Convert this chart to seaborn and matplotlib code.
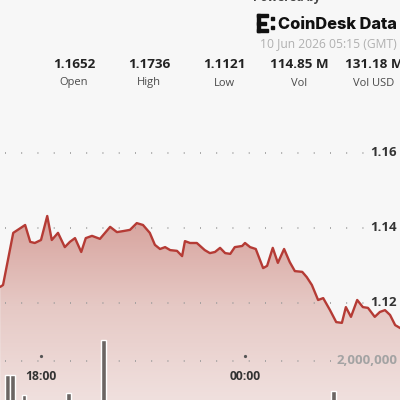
import matplotlib
matplotlib.use("Agg")
import matplotlib.pyplot as plt
import matplotlib.transforms as mtransforms
from matplotlib.colors import LinearSegmentedColormap
from matplotlib.patches import Rectangle
import numpy as np
import seaborn as sns

# precio (hora GMT, valor)
horas = ["16:48", "16:53", "17:11", "17:21", "17:32", "17:41", "17:49", "18:00", "18:11", "18:19",
         "18:30", "18:42", "18:51", "19:00", "19:11", "19:19", "19:30", "19:44", "20:02", "20:14",
         "20:26", "20:37", "20:49", "21:00", "21:12", "21:21", "21:30", "21:39", "21:48", "22:00",
         "22:09", "22:14", "22:23", "22:35", "22:49", "22:58", "23:07", "23:16", "23:25", "23:34",
         "23:42", "23:55", "00:00", "00:09", "00:19", "00:32", "00:39", "00:49", "00:58", "01:09",
         "01:19", "01:28", "01:41", "01:49", "01:58", "02:09", "02:18", "02:30", "02:41", "02:51",
         "02:58", "03:07", "03:18", "03:28", "03:37", "03:49", "03:58", "04:07", "04:16", "04:25",
         "04:34"]
precios = [1.1243, 1.1248, 1.1387, 1.1397, 1.1408, 1.1363, 1.1360, 1.1368, 1.1432, 1.1368,
           1.1387, 1.1349, 1.1363, 1.1373, 1.1336, 1.1373, 1.1379, 1.1371, 1.1403, 1.1389,
           1.1392, 1.1395, 1.1413, 1.1408, 1.1387, 1.1355, 1.1344, 1.1349, 1.1341, 1.1339,
           1.1325, 1.1365, 1.1360, 1.1360, 1.1341, 1.1333, 1.1336, 1.1347, 1.1333, 1.1331,
           1.1349, 1.1352, 1.1360, 1.1349, 1.1344, 1.1293, 1.1299, 1.1347, 1.1307, 1.1344,
           1.1309, 1.1285, 1.1283, 1.1269, 1.1248, 1.1208, 1.1213, 1.1181, 1.1149, 1.1147,
           1.1189, 1.1163, 1.1208, 1.1189, 1.1187, 1.1163, 1.1176, 1.1181, 1.1168, 1.1141,
           1.1133]

# volumen visible
horas_vol = ["17:01", "17:10", "17:30", "18:49", "19:50", "02:36"]
volumenes = [1.56e6, 1.56e6, 0.94e6, 1.00e6, 2.66e6, 1.06e6]

stats_valores = ["1.1652", "1.1736", "1.1121", "114.85 M", "131.18 M"]
stats_nombres = ["Open", "High", "Low", "Vol", "Vol USD"]
precio_ticks = [1.16, 1.14, 1.12]
vol_ticks = [2_000_000]
tiempo_ticks = ["18:00", "00:00"]


def a_horas(t):
    h, m = map(int, t.split(":"))
    h = h + m / 60
    return h + 24 if h < 12 else h


x = np.array([a_horas(t) for t in horas])
xv = np.array([a_horas(t) for t in horas_vol])

sns.set_theme(style="white")
plt.rcParams['font.family'] = ['Open Sans', 'DejaVu Sans']

fig = plt.figure(figsize=(4, 4), dpi=100)
fig.patch.set_facecolor("#f7f7f7")
ax = fig.add_axes([0, 0, 1, 0.75])
ax.set_facecolor("#f7f7f7")

xlim = (16.794, 28.559)
ylim = (1.09413, 1.17413)

# relleno con degradado
poly = ax.fill_between(x, precios, ylim[0], color="none", lw=0)
grad = np.linspace(0, 1, 256).reshape(-1, 1)
cmap = LinearSegmentedColormap.from_list("rojo", ["#d6a09a", "#e6c9c5", "#f0e0de"])
im = ax.imshow(grad, extent=[xlim[0], xlim[1], ylim[0], 1.144], aspect="auto",
               cmap=cmap, origin="upper", zorder=1)
im.set_clip_path(poly.get_paths()[0], transform=ax.transData)

sns.lineplot(x=x, y=precios, ax=ax, color="#b53b35", lw=1.7, zorder=3)
ax.set_xlim(*xlim)
ax.set_ylim(*ylim)

trans_p = mtransforms.blended_transform_factory(ax.transAxes, ax.transData)
for p in precio_ticks:
    ax.axhline(p, xmin=0.012, xmax=0.915, color="#9a9a9a", lw=1.3,
               ls=(0, (0.5, 8.5)), zorder=2)
    ax.text(0.993, p, f"{p:.2f}", transform=trans_p, ha="right", va="center",
            fontsize=9.5, fontweight="bold", color="#333333", zorder=4)

ax.axis("off")

# volumen
ax2 = ax.twinx()
ax2.bar(xv, volumenes, width=0.14, color="#6b6563", zorder=3)
ax2.set_ylim(0.78e6, 10.16e6)
ax2.set_xlim(*xlim)
trans_v = mtransforms.blended_transform_factory(ax2.transAxes, ax2.transData)
for v in vol_ticks:
    ax2.axhline(v, xmin=0.012, xmax=0.85, color="#9a9a9a", lw=1.3,
                ls=(0, (0.5, 8.5)), zorder=2)
    ax2.text(0.993, v, f"{v:,}", transform=trans_v, ha="right", va="center",
             fontsize=9.5, fontweight="bold", color="#a3a3a3")
ax2.axis("off")

trans_t = mtransforms.blended_transform_factory(ax.transData, ax.transAxes)
for t in tiempo_ticks:
    h = a_horas(t)
    ax.text(h, 0.08, t, transform=trans_t, ha="center", va="center",
            fontsize=8.7, fontweight="bold", color="#333333")
    ax.plot([h], [0.147], transform=trans_t, marker="o", ms=1.3, color="#555555")

# cabecera
for i, (val, nom) in enumerate(zip(stats_valores, stats_nombres)):
    cx = (74 + 75 * i) / 400
    fig.text(cx, 1 - 65 / 400, val, ha="center", va="center", fontsize=9.7,
             fontweight="bold", color="#222222")
    fig.text(cx, 1 - 83 / 400, nom, ha="center", va="center", fontsize=8,
             color="#4a4a4a")

fig.text(287 / 400, 1 - 4 / 400, "Powered by", ha="center", va="bottom",
         fontsize=8.5, fontweight="bold", color="#444444")
fig.text(278 / 400, 1 - 29 / 400, "CoinDesk Data", ha="left", va="baseline",
         fontsize=11.8, fontweight="heavy", color="#111111", family=["Inter", "DejaVu Sans"])
fig.text(397 / 400, 1 - 44 / 400, "10 Jun 2026 05:15 (GMT)", ha="right", va="center",
         fontsize=8.7, color="#b0b0b0")

# logo
for (lx, ly, w, hh) in [(257, 14, 3, 18), (257, 14, 11, 3), (257, 29, 11, 3), (257, 22, 9, 3),
                        (271, 17, 3, 3), (271, 26, 3, 3)]:
    fig.patches.append(Rectangle((lx / 400, 1 - (ly + hh) / 400), w / 400, hh / 400,
                                 transform=fig.transFigure, color="#111111"))

fig.savefig("out.png", dpi=100, facecolor=fig.get_facecolor())
